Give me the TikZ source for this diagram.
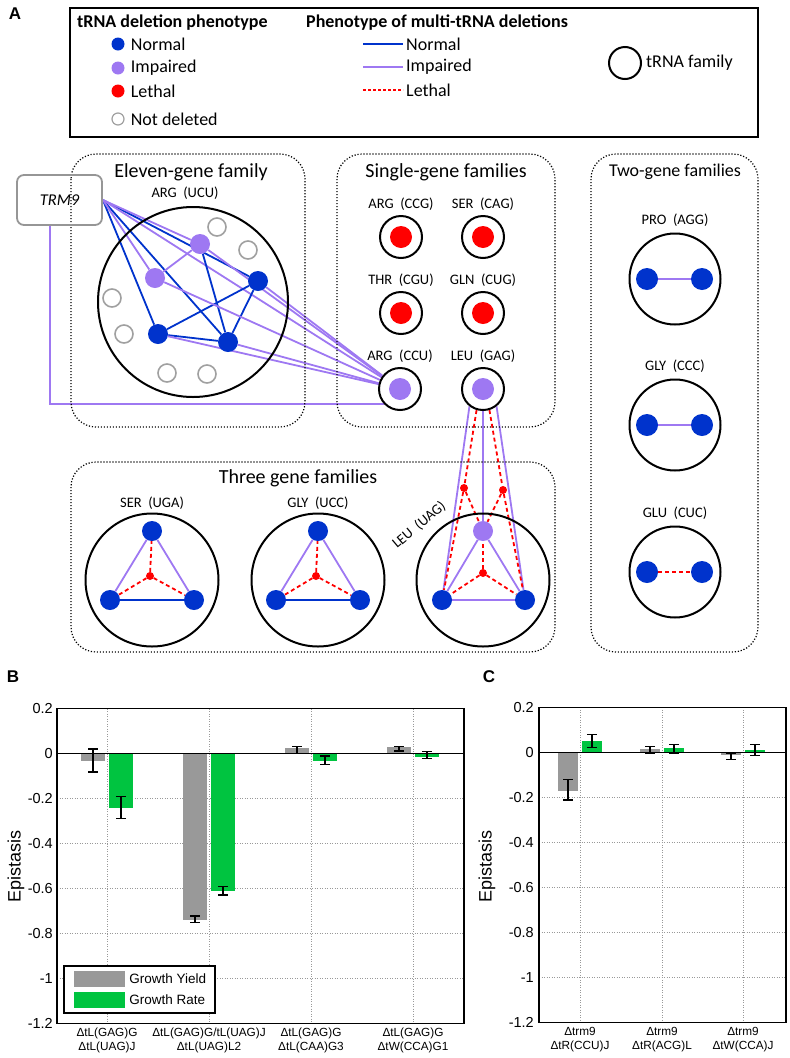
\documentclass[tikz,border=0pt]{standalone}
\usepackage{fontspec}
\setmainfont{Carlito}
\newfontfamily\arialfont{Liberation Sans}
\usepackage{xcolor}
\usepackage{tikz}
\usetikzlibrary{positioning}
\pgfdeclarelayer{bg}
\pgfsetlayers{bg,main}

\definecolor{nblue}{RGB}{0,51,204}
\definecolor{impur}{RGB}{158,120,242}
\definecolor{leth}{RGB}{255,0,0}
\definecolor{ndel}{RGB}{160,160,160}
\definecolor{bargray}{RGB}{153,153,153}
\definecolor{bargreen}{RGB}{0,196,64}
\definecolor{trmgray}{RGB}{150,150,150}

\begin{document}
\begin{tikzpicture}[
  x=1pt, y=-1pt,
  every node/.style={inner sep=1pt},
  famcirc/.style={circle, draw, line width=2pt, inner sep=0pt},
  gnorm/.style={circle, fill=nblue, inner sep=0pt, minimum size=20pt},
  gimp/.style={circle, fill=impur, inner sep=0pt, minimum size=20pt},
  glet/.style={circle, fill=leth, inner sep=0pt, minimum size=22pt},
  gnone/.style={circle, draw=ndel, line width=1.6pt, inner sep=0pt, minimum size=18pt},
  hub/.style={circle, fill=leth, inner sep=0pt, minimum size=8pt},
  enorm/.style={draw=nblue, line width=1.8pt},
  eimp/.style={draw=impur, line width=1.8pt},
  elet/.style={draw=leth, line width=1.8pt, dash pattern=on 4pt off 3pt},
  grpbox/.style={draw, line width=1.2pt, dash pattern=on 1.2pt off 1.8pt, rounded corners=25pt},
  grptitle/.style={font=\fontsize{20}{23}\selectfont},
  famlbl/.style={font=\fontsize{14.5}{17}\selectfont},
  hdr/.style={font=\bfseries\fontsize{18}{21}\selectfont},
  legtxt/.style={font=\fontsize{18}{21}\selectfont},
  trmbox/.style={draw=trmgray, line width=1.8pt, rounded corners=7pt, minimum width=85pt, minimum height=50pt, font=\itshape\fontsize{16.5}{19}\selectfont},
  paneltag/.style={font=\arialfont\bfseries\fontsize{17}{20}\selectfont},
  gridln/.style={draw=gray!80, line width=0.7pt, dash pattern=on 1pt off 1.5pt},
  errbar/.style={draw=black, line width=1.1pt},
  ticklbl/.style={anchor=east, font=\arialfont\fontsize{14.5}{17}\selectfont},
  xlbl/.style={align=center, font=\arialfont\fontsize{11.8}{14}\selectfont},
  ylbl/.style={rotate=90, font=\arialfont\fontsize{18}{21}\selectfont},
  swatch/.style={minimum width=51pt, minimum height=16pt, inner sep=0pt},
  lgdtxt/.style={anchor=west, font=\arialfont\fontsize{13.5}{16}\selectfont}
]
\useasboundingbox (0,0) rectangle (790,1058);

% ---------- panel A: legend
\node[paneltag] (tagA) at (15,14) {A};
\draw[line width=1.5pt] (70,8) rectangle (758,137);
\node[hdr, anchor=west] (hdrDel) at (76,23) {tRNA deletion phenotype};
\node[gnorm, minimum size=13pt] (legNorm) at (118,44) {};
\node[legtxt, right=5pt of legNorm] (legNormT) {Normal};
\node[gimp, minimum size=13pt] (legImp) at (118,68) {};
\node[legtxt, right=5pt of legImp] (legImpT) {Impaired};
\node[glet, minimum size=13pt] (legLet) at (118,91) {};
\node[legtxt, right=5pt of legLet] (legLetT) {Lethal};
\node[gnone, minimum size=12pt, line width=1.2pt] (legNone) at (118,119) {};
\node[legtxt, right=5pt of legNone] (legNoneT) {Not deleted};

\node[hdr, anchor=west] (hdrMulti) at (305,23) {Phenotype of multi-tRNA deletions};
\coordinate (lnNa) at (363,44); \coordinate (lnNb) at (403,44);
\coordinate (lnIa) at (363,67); \coordinate (lnIb) at (403,67);
\coordinate (lnLa) at (363,90); \coordinate (lnLb) at (403,90);
\draw[enorm, line width=2.2pt] (lnNa) -- (lnNb);
\draw[eimp, line width=2.2pt] (lnIa) -- (lnIb);
\draw[elet, dash pattern=on 3pt off 2pt] (lnLa) -- (lnLb);
\node[legtxt, anchor=west] (lnNt) at (405,44) {Normal};
\node[legtxt, anchor=west] (lnIt) at (405,67) {Impaired};
\node[legtxt, anchor=west] (lnLt) at (405,90) {Lethal};

\node[famcirc, minimum size=32pt] (legFam) at (625,63) {};
\node[legtxt, right=3pt of legFam] (legFamT) {tRNA family};

% ---------- eleven-gene family
\draw[grpbox] (71,154) rectangle (305,427);
\node[grptitle] (t11) at (191,172) {Eleven-gene family};
\node[famlbl] (ucuL) at (185,193) {ARG\ \ (UCU)};
\node[famcirc, minimum size=190pt] (ucu) at (193,302) {};
\node[trmbox] (trm9) at (59.5,200) {TRM9};
\node[gimp] (p1) at (200,244) {};
\node[gimp] (p2) at (155,278) {};
\node[gnorm] (b1) at (258,281) {};
\node[gnorm] (b2) at (158,334) {};
\node[gnorm] (b3) at (228,342) {};
\foreach \nx/\ny [count=\i] in {217/227, 248/250, 112/298, 124/334, 167/373, 207/374}
  \node[gnone] (u\i) at (\nx,\ny) {};

% ---------- single-gene families
\draw[grpbox] (337,154) rectangle (555,427);
\node[grptitle] (t1) at (446,172) {Single-gene families};
\node[famcirc, minimum size=42pt] (ccg) at (401,237) {};
\node[famcirc, minimum size=42pt] (cag) at (483,237) {};
\node[famcirc, minimum size=42pt] (cgu) at (401,313) {};
\node[famcirc, minimum size=42pt] (cug) at (483,313) {};
\node[famcirc, minimum size=42pt] (ccu) at (400,389) {};
\node[famcirc, minimum size=42pt] (gag) at (483,389) {};
\node[glet] (ccgD) at (ccg) {};
\node[glet] (cagD) at (cag) {};
\node[glet] (cguD) at (cgu) {};
\node[glet] (cugD) at (cug) {};
\node[gimp, minimum size=22pt] (ccuD) at (ccu) {};
\node[gimp, minimum size=22pt] (gagD) at (gag) {};
\node[famlbl, above=3pt of ccg] (ccgL) {ARG\ \ (CCG)};
\node[famlbl, above=3pt of cag] (cagL) {SER\ \ (CAG)};
\node[famlbl, above=3pt of cgu] (cguL) {THR\ \ (CGU)};
\node[famlbl, above=3pt of cug] (cugL) {GLN\ \ (CUG)};
\node[famlbl, above=3pt of ccu] (ccuL) {ARG\ \ (CCU)};
\node[famlbl, above=3pt of gag] (gagL) {LEU\ \ (GAG)};

% ---------- three gene families
\draw[grpbox] (71,462) rectangle (555,652);
\node[grptitle] (t3) at (298,478) {Three gene families};
\node[famcirc, minimum size=133pt] (uga) at (152,580) {};
\node[famlbl, above=2pt of uga] (ugaL) {SER\ \ (UGA)};
\node[gnorm] (ugaT) at (152,531) {};
\node[gnorm] (ugaA) at (110,600) {};
\node[gnorm] (ugaB) at (194,600) {};
\node[hub] (ugaH) at (150,576) {};
\node[famcirc, minimum size=133pt] (ucc) at (318,580) {};
\node[famlbl, above=2pt of ucc] (uccL) {GLY\ \ (UCC)};
\node[gnorm] (uccT) at (318,531) {};
\node[gnorm] (uccA) at (276,600) {};
\node[gnorm] (uccB) at (360,600) {};
\node[hub] (uccH) at (316,576) {};
\node[famcirc, minimum size=133pt] (uag) at (483,580) {};
\node[famlbl, rotate=40] (uagL) at (419,525) {LEU\ \ (UAG)};
\node[gimp] (uagT) at (483,531) {};
\node[gnorm] (uagA) at (442,600) {};
\node[gnorm] (uagB) at (525,600) {};
\node[hub] (uagH) at (483,573) {};
\node[hub] (hubL) at (464,488) {};
\node[hub] (hubR) at (503,490) {};

% ---------- two-gene families
\draw[grpbox] (591,154) rectangle (758,652);
\node[grptitle, font=\fontsize{18}{21}\selectfont] (t2) at (675,172) {Two-gene families};
\node[famcirc, minimum size=91pt] (agg) at (675,279) {};
\node[famlbl, above=5pt of agg] (aggL) {PRO\ \ (AGG)};
\node[gnorm, minimum size=22pt] (aggA) at (647,279) {};
\node[gnorm, minimum size=22pt] (aggB) at (702,279) {};
\node[famcirc, minimum size=91pt] (ccc) at (675,425) {};
\node[famlbl, above=5pt of ccc] (cccL) {GLY\ \ (CCC)};
\node[gnorm, minimum size=22pt] (cccA) at (647,425) {};
\node[gnorm, minimum size=22pt] (cccB) at (702,425) {};
\node[famcirc, minimum size=91pt] (cuc) at (675,572) {};
\node[famlbl, above=5pt of cuc] (cucL) {GLU\ \ (CUC)};
\node[gnorm, minimum size=22pt] (cucA) at (647,572) {};
\node[gnorm, minimum size=22pt] (cucB) at (702,572) {};

\begin{pgfonlayer}{bg}
% TRM9 links
\draw[enorm] (trm9.east) -- (b2);
\draw[enorm] (trm9.east) -- (b3);
\draw[enorm] (trm9.east) -- (b1);
\draw[eimp] (trm9.east) -- (p2);
\draw[eimp] (trm9.east) -- (p1);
\draw[eimp] (trm9.east) -- (ccu);
\draw[eimp] (trm9.250) |- (ccu.222);
% inside ARG (UCU)
\draw[eimp] (p1) -- (p2);
\draw[enorm] (p1) -- (b3);
\draw[enorm] (b1) -- (b2);
\draw[enorm] (b1) -- (b3);
\draw[enorm] (b2) -- (b3);
% to ARG (CCU)
\draw[eimp] (p1) -- (ccu);
\draw[eimp] (b1) -- (ccu);
\draw[eimp] (p2) -- (ccu);
\draw[eimp] (b2) -- (ccu);
\draw[eimp] (b3) -- (ccu);
% triangles
\draw[eimp] (ugaT) -- (ugaA);
\draw[eimp] (ugaT) -- (ugaB);
\draw[enorm] (ugaA) -- (ugaB);
\draw[elet] (ugaH) -- (ugaT);
\draw[elet] (ugaH) -- (ugaA);
\draw[elet] (ugaH) -- (ugaB);
\draw[eimp] (uccT) -- (uccA);
\draw[eimp] (uccT) -- (uccB);
\draw[enorm] (uccA) -- (uccB);
\draw[elet] (uccH) -- (uccT);
\draw[elet] (uccH) -- (uccA);
\draw[elet] (uccH) -- (uccB);
\draw[eimp] (uagT) -- (uagA);
\draw[eimp] (uagT) -- (uagB);
\draw[eimp] (uagA) -- (uagB);
\draw[elet] (uagH) -- (uagT);
\draw[elet] (uagH) -- (uagA);
\draw[elet] (uagH) -- (uagB);
% LEU (GAG) with LEU (UAG)
\draw[eimp] (gag.232) -- (uagA);
\draw[eimp] (gag.270) -- (uagT);
\draw[eimp] (gag.308) -- (uagB);
\draw[elet] (gag.253) -- (hubL);
\draw[elet] (gag.287) -- (hubR);
\draw[elet] (hubL) -- (uagT);
\draw[elet] (hubL) -- (uagA);
\draw[elet] (hubR) -- (uagT);
\draw[elet] (hubR) -- (uagB);
% pairs
\draw[eimp] (aggA) -- (aggB);
\draw[eimp] (cccA) -- (cccB);
\draw[elet] (cucA) -- (cucB);
\end{pgfonlayer}

% ---------- panel B
\node[paneltag] (tagB) at (13,677) {B};
\begin{scope}[shift={(0,753.5)}, y=225pt]
\foreach \v in {0.2,-0.2,-0.4,-0.6,-0.8,-1,-1.2} \draw[gridln] (57,\v) -- (464,\v);
\foreach \c in {107,209,311,413} \draw[gridln] (\c,0.2) -- (\c,-1.2);
\foreach \c/\gy/\gl/\gh/\ry/\rl/\rh in {
  107/-0.033/-0.082/0.02/-0.24/-0.287/-0.193,
  209/-0.74/-0.753/-0.722/-0.611/-0.629/-0.593,
  311/0.024/0.002/0.033/-0.033/-0.048/-0.011,
  413/0.028/0.011/0.033/-0.016/-0.024/0.007} {
  \fill[bargray] (\c-26,0) rectangle (\c-2,\gy);
  \fill[bargreen] (\c+2,0) rectangle (\c+26,\ry);
  \draw[errbar] (\c-14,\gl) -- (\c-14,\gh) (\c-19,\gl) -- (\c-9,\gl) (\c-19,\gh) -- (\c-9,\gh);
  \draw[errbar] (\c+14,\rl) -- (\c+14,\rh) (\c+9,\rl) -- (\c+19,\rl) (\c+9,\rh) -- (\c+19,\rh);
}
\draw[line width=1.3pt] (57,0) -- (464,0);
\draw[line width=1.3pt] (57,0.2) rectangle (464,-1.2);
\foreach \v [count=\i] in {0.2,0,-0.2,-0.4,-0.6,-0.8,-1,-1.2}
  \node[ticklbl] (tickB\i) at (54,\v) {\v};
\end{scope}
\node[ylbl] (epiB) at (16,866) {Epistasis};
\filldraw[fill=white, line width=1.2pt] (64,966) rectangle (215,1013);
\node[swatch, fill=bargray] (swYield) at (99.5,979) {};
\node[swatch, fill=bargreen] (swRate) at (99.5,999.5) {};
\node[lgdtxt, right=3pt of swYield] (swYieldT) {Growth Yield};
\node[lgdtxt, right=3pt of swRate] (swRateT) {Growth Rate};
\node[xlbl] (xB1) at (107,1040) {ΔtL(GAG)G\\ΔtL(UAG)J};
\node[xlbl] (xB2) at (209,1040) {ΔtL(GAG)G/tL(UAG)J\\ΔtL(UAG)L2};
\node[xlbl] (xB3) at (311,1040) {ΔtL(GAG)G\\ΔtL(CAA)G3};
\node[xlbl] (xB4) at (413,1040) {ΔtL(GAG)G\\ΔtW(CCA)G1};

% ---------- panel C
\node[paneltag] (tagC) at (489,677) {C};
\begin{scope}[shift={(0,752.3)}, y=225pt]
\foreach \v in {0.2,-0.2,-0.4,-0.6,-0.8,-1,-1.2} \draw[gridln] (539,\v) -- (786,\v);
\foreach \c in {580,662,743} \draw[gridln] (\c,0.2) -- (\c,-1.2);
\foreach \c/\gy/\gl/\gh/\ry/\rl/\rh in {
  580/-0.173/-0.212/-0.121/0.049/0.021/0.079,
  662/0.013/-0.006/0.027/0.019/-0.003/0.036,
  743/-0.013/-0.032/-0.003/0.012/-0.015/0.036} {
  \fill[bargray] (\c-22,0) rectangle (\c-2,\gy);
  \fill[bargreen] (\c+2,0) rectangle (\c+22,\ry);
  \draw[errbar] (\c-12,\gl) -- (\c-12,\gh) (\c-17,\gl) -- (\c-7,\gl) (\c-17,\gh) -- (\c-7,\gh);
  \draw[errbar] (\c+12,\rl) -- (\c+12,\rh) (\c+7,\rl) -- (\c+17,\rl) (\c+7,\rh) -- (\c+17,\rh);
}
\draw[line width=1.3pt] (539,0) -- (786,0);
\draw[line width=1.3pt] (539,0.2) rectangle (786,-1.2);
\foreach \v [count=\i] in {0.2,0,-0.2,-0.4,-0.6,-0.8,-1,-1.2}
  \node[ticklbl] (tickC\i) at (535,\v) {\v};
\end{scope}
\node[ylbl] (epiC) at (487,866) {Epistasis};
\node[xlbl] (xC1) at (580,1040) {Δtrm9\\ΔtR(CCU)J};
\node[xlbl] (xC2) at (662,1040) {Δtrm9\\ΔtR(ACG)L};
\node[xlbl] (xC3) at (743,1040) {Δtrm9\\ΔtW(CCA)J};
\end{tikzpicture}
\end{document}
